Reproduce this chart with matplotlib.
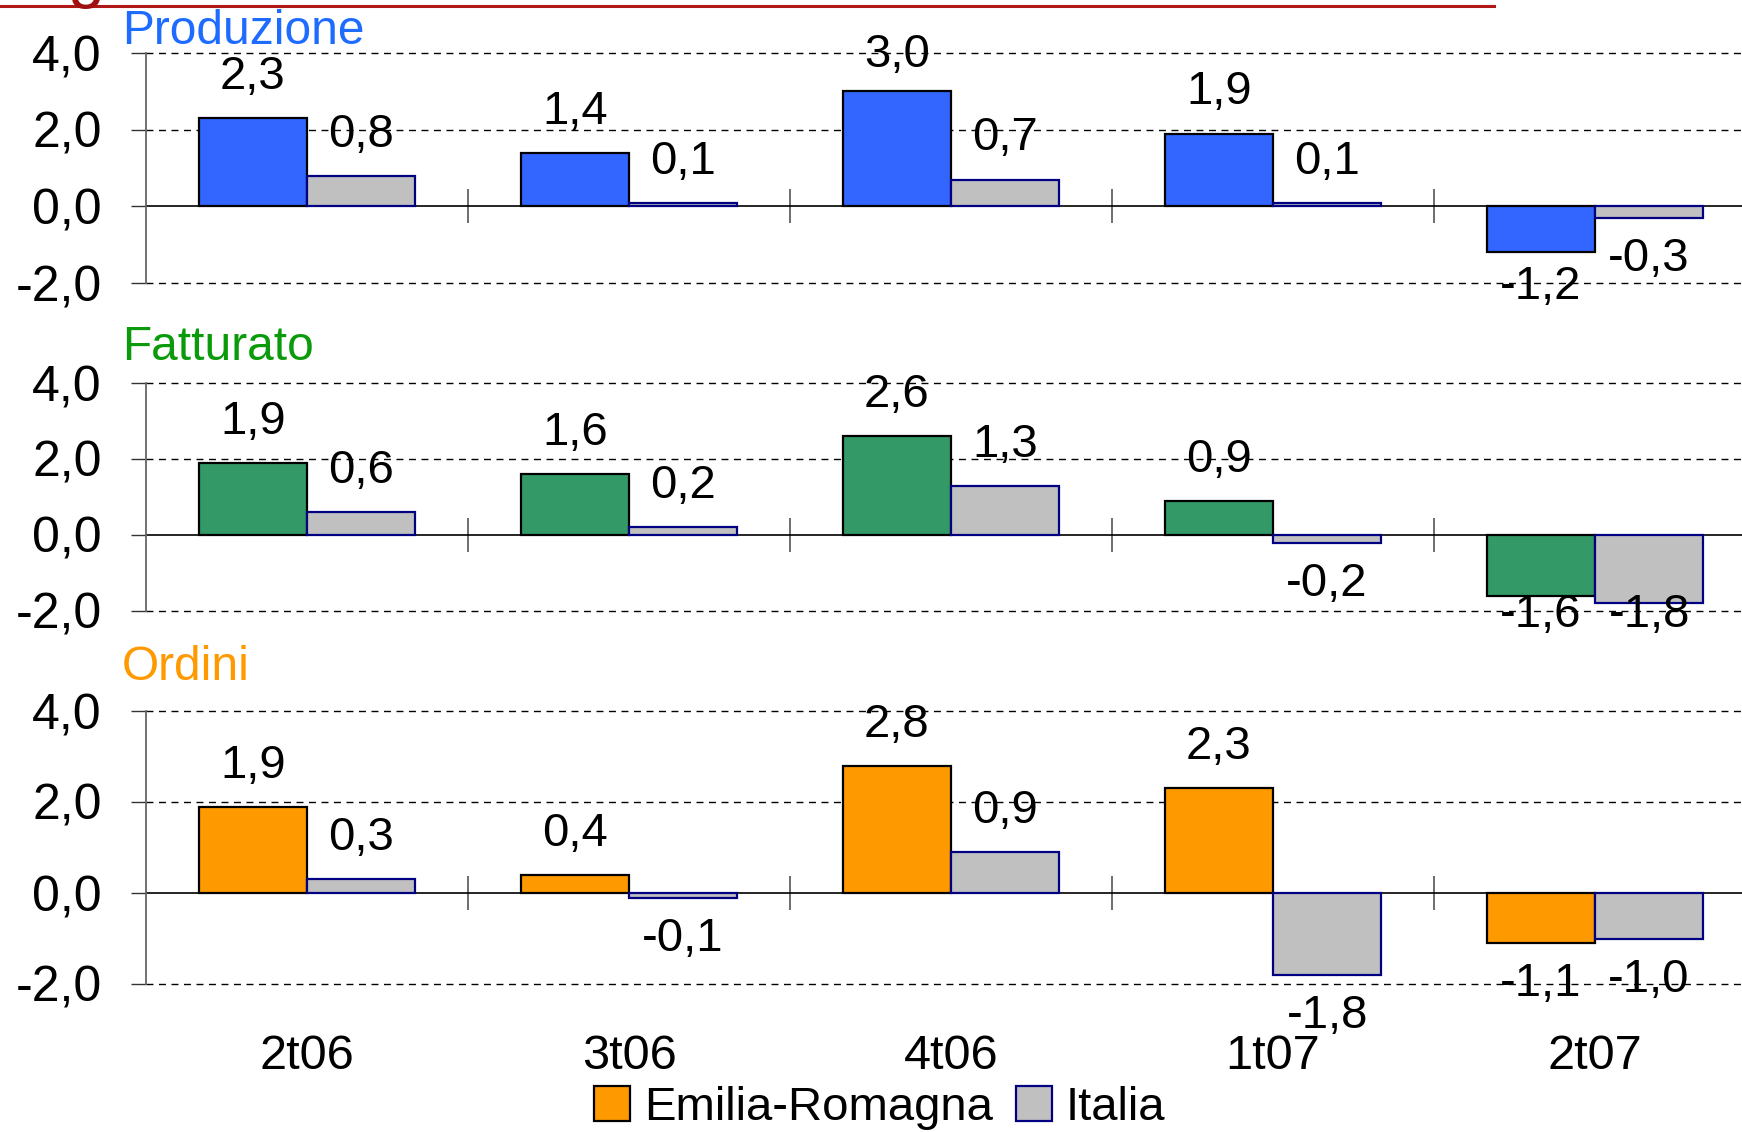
import matplotlib.pyplot as plt
import matplotlib.patches as patches
import numpy as np

plt.rcParams['font.family'] = ['Liberation Sans', 'DejaVu Sans']

CATEGORIES = ['2t06', '3t06', '4t06', '1t07', '2t07']
SERIES = ['Emilia-Romagna', 'Italia']
PANELS = ['Produzione', 'Fatturato', 'Ordini']

prod_er = [2.3, 1.4, 3.0, 1.9, -1.2]
prod_it = [0.8, 0.1, 0.7, 0.1, -0.3]
fatt_er = [1.9, 1.6, 2.6, 0.9, -1.6]
fatt_it = [0.6, 0.2, 1.3, -0.2, -1.8]
ord_er = [1.9, 0.4, 2.8, 2.3, -1.1]
ord_it = [0.3, -0.1, 0.9, -1.8, -1.0]

YTICKS = [-2, 0, 2, 4]

TITLE_COLORS = ['#1E6BFF', '#0A9A0A', '#FF9900']
ER_COLORS = ['#3366FF', '#339966', '#FF9900']
IT_COLOR = '#C0C0C0'
IT_EDGE = '#000080'

W = 1742
H = 1132
# axes boxes in pixels: (top, bottom)
BOXES = [(53, 283), (383, 611), (711, 984)]
LEFT = 146
CAT_W = 322
BW = 0.336
LABEL_OFF = 41  # px between bar end and label centre

fig = plt.figure(figsize=(W / 100, H / 100), dpi=100)

data = [(prod_er, prod_it), (fatt_er, fatt_it), (ord_er, ord_it)]
x = np.arange(len(CATEGORIES))


def fmt(v):
    return ('%.1f' % v).replace('.', ',')


for k, (top, bot) in enumerate(BOXES):
    ax = fig.add_axes([LEFT / W, 1 - bot / H, CAT_W * 5 / W, (bot - top) / H])
    er, it = data[k]
    ax.bar(x - BW / 2, er, BW, color=ER_COLORS[k], edgecolor='black', linewidth=1.6, zorder=3)
    ax.bar(x + BW / 2, it, BW, color=IT_COLOR, edgecolor=IT_EDGE, linewidth=1.6, zorder=3)
    ax.set_xlim(-0.5, 4.5)
    ax.set_ylim(-2, 4)
    ax.set_yticks(YTICKS)
    ax.set_yticklabels([fmt(t) for t in YTICKS], fontsize=36)
    ax.tick_params(axis='y', length=11, width=1, color='#333333', pad=21)
    for t in [-2, 2, 4]:
        ax.axhline(t, color='black', lw=1, ls=(0, (5, 4)), zorder=1, clip_on=False)
    ax.axhline(0, color='black', lw=1.2, zorder=2, clip_on=False)
    for s in ['top', 'right', 'bottom']:
        ax.spines[s].set_visible(False)
    ax.spines['left'].set_color('#666666')
    ax.spines['left'].set_linewidth(1.3)

    # category separators on the zero line
    sec = ax.secondary_xaxis(1 / 3)
    sec.set_xticks(np.arange(0.5, 4.0, 1.0))
    sec.set_xticklabels([])
    sec.tick_params(direction='inout', length=24, width=1.2, color='#555555')
    sec.spines['bottom'].set_visible(False)
    sec.spines['top'].set_visible(False)

    if k == 2:
        ax.set_xticks(x)
        ax.set_xticklabels(CATEGORIES, fontsize=35)
        ax.tick_params(axis='x', length=0, pad=36)
    else:
        ax.set_xticks([])

    unit = LABEL_OFF / ((bot - top) / 6)
    for xs, vals in [(x - BW / 2, er), (x + BW / 2, it)]:
        for xi, v in zip(xs, vals):
            ly = v + unit if v >= 0 else v - unit
            ly = min(ly, 3.95)
            if k < 2:
                ly = max(ly, -2.1)
            ax.text(xi, ly, fmt(v), ha='center', va='center', fontsize=34, zorder=5)

    fig.text(122 / W, 1 - [31, 348, 667][k] / H, PANELS[k], color=TITLE_COLORS[k],
             fontsize=34.5, ha='left', va='center')

# header remains: red rule and clipped title letter
fig.add_artist(plt.Line2D([0, 1494 / W], [1 - 6 / H, 1 - 6 / H], color='#B01818', lw=2.2))
fig.text(67 / W, 1 + 5 / H, 'g', color='#A01010', fontsize=48, ha='left', va='baseline')

handles = [patches.Patch(facecolor='#FF9900', edgecolor='black', linewidth=1.6),
           patches.Patch(facecolor=IT_COLOR, edgecolor=IT_EDGE, linewidth=1.6)]
fig.legend(handles, SERIES, loc='center', bbox_to_anchor=(0.505, 1 - 1108 / H), ncol=2,
           frameon=False, fontsize=34, handlelength=0.75, handleheight=0.75,
           handletextpad=0.3, columnspacing=0.5, borderpad=0)

fig.savefig('out.png', dpi=100)
